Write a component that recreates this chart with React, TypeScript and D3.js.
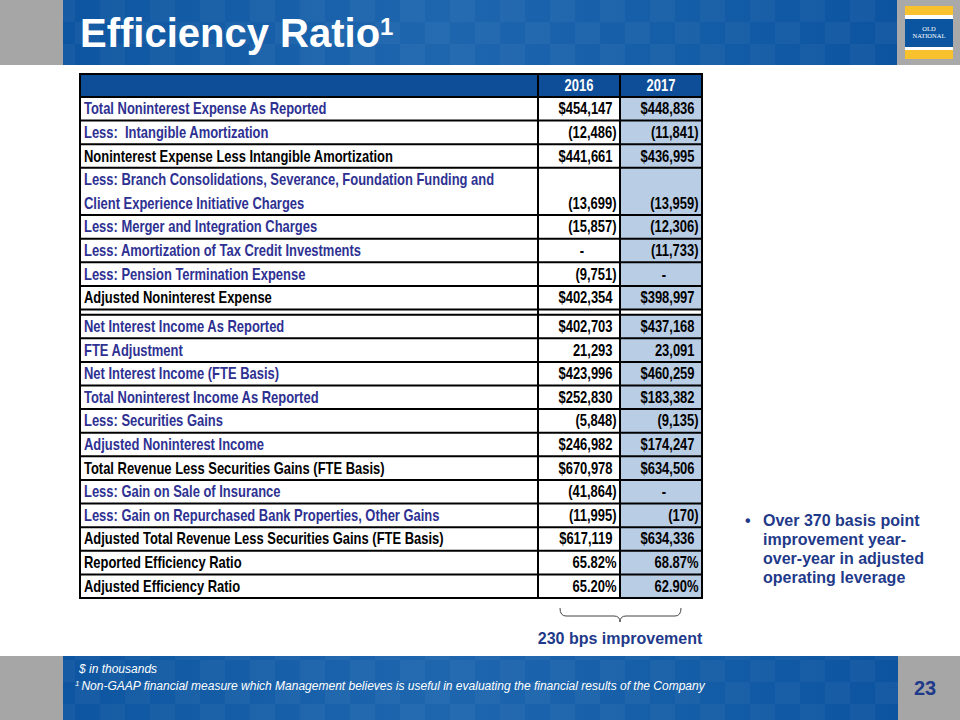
import React, { useEffect } from "react";
import * as d3 from "d3";

const years = ["2016", "2017"];

const rowLabels = [
  "Total Noninterest Expense As Reported",
  "Less:  Intangible Amortization",
  "Noninterest Expense Less Intangible Amortization",
  "Less: Branch Consolidations, Severance, Foundation Funding and\nClient Experience Initiative Charges",
  "Less: Merger and Integration Charges",
  "Less: Amortization of Tax Credit Investments",
  "Less: Pension Termination Expense",
  "Adjusted Noninterest Expense",
  "Net Interest Income As Reported",
  "FTE Adjustment",
  "Net Interest Income (FTE Basis)",
  "Total Noninterest Income As Reported",
  "Less: Securities Gains",
  "Adjusted Noninterest Income",
  "Total Revenue Less Securities Gains (FTE Basis)",
  "Less: Gain on Sale of Insurance",
  "Less: Gain on Repurchased Bank Properties, Other Gains",
  "Adjusted Total Revenue Less Securities Gains (FTE Basis)",
  "Reported Efficiency Ratio",
  "Adjusted Efficiency Ratio",
];

const values2016 = [
  454147, -12486, 441661, -13699, -15857, 0, -9751, 402354, 402703, 21293,
  423996, 252830, -5848, 246982, 670978, -41864, -11995, 617119, 65.82, 65.2,
];
const values2017 = [
  448836, -11841, 436995, -13959, -12306, -11733, 0, 398997, 437168, 23091,
  460259, 183382, -9135, 174247, 634506, 0, -170, 634336, 68.87, 62.9,
];

// "$" dollars, "n" plain number, "%" ratio
const rowFormats = [
  "$", "n", "$", "n", "n", "n", "n", "$", "$", "n",
  "$", "$", "n", "$", "$", "n", "n", "$", "%", "%",
];
// rows whose label is black instead of blue
const subtotalRows = [2, 7, 14, 17, 18, 19];
const sectionBreakAfter = 7;

const bulletLines = [
  "Over 370 basis point",
  "improvement year-",
  "over-year in adjusted",
  "operating leverage",
];

const W = 960;
const H = 720;
const NAVY = "#2E3192";
const DARK = "#1F3A8A";
const sans = "'Liberation Sans', Arial, sans-serif";
// no narrow face installed: squeeze Liberation Sans Bold horizontally
const SQUEEZE = 0.81;

function fmt(v: number, f: string) {
  if (f === "%") return v.toFixed(2) + "%";
  if (v === 0) return "-";
  const s = d3.format(",")(Math.abs(v));
  if (v < 0) return `(${s})`;
  return f === "$" ? "$" + s : s;
}

function NText({ x, y, anchor = "start", fill, children }: any) {
  return (
    <text transform={`translate(${x},${y}) scale(${SQUEEZE},1)`} textAnchor={anchor} fill={fill}
      fontFamily={sans} fontWeight="bold" fontSize={16} style={{ whiteSpace: "pre" }}>
      {children}
    </text>
  );
}

export default function App() {
  useEffect(() => {
    document.body.style.margin = "0";
  }, []);

  // table frame
  const tableLeft = 80;
  const tableRight = 702;
  const tableTop = 74;
  const headTop = 97;
  const tableBottom = 598;
  const gapUnits = 0.22;

  const colX = d3.scaleBand().domain(years).range([538, tableRight]).padding(0);

  // rows: each label line is one unit
  const rows: { top: number; units: number; lines: string[] }[] = [];
  let acc = 0;
  rowLabels.forEach((lab, i) => {
    const lines = lab.split("\n");
    rows.push({ top: acc, units: lines.length, lines });
    acc += lines.length;
    if (i === sectionBreakAfter) acc += gapUnits;
  });
  const y = d3.scaleLinear().domain([0, acc]).range([headTop, tableBottom]);

  const hLines: number[] = [];
  rows.forEach((r, i) => {
    hLines.push(y(r.top));
    if (i === sectionBreakAfter) hLines.push(y(r.top + r.units));
  });

  const valueX = (year: string, txt: string) => {
    const right = (colX(year) as number) + colX.bandwidth();
    if (txt === "-") return right - 36;
    if (txt.startsWith("(") || txt.endsWith("%")) return right - 3.5;
    return right - 7.5;
  };

  const bracket = d3.path();
  bracket.moveTo(560, 608);
  bracket.quadraticCurveTo(560, 616, 566, 616);
  bracket.lineTo(614, 616);
  bracket.quadraticCurveTo(620, 616, 620, 622);
  bracket.quadraticCurveTo(620, 616, 626, 616);
  bracket.lineTo(675, 616);
  bracket.quadraticCurveTo(681, 616, 681, 608);

  return (
    <svg width={W} height={H} style={{ display: "block", background: "#fff" }}>
      <defs>
        <linearGradient id="band" x1="0" x2="1" y1="0" y2="0">
          <stop offset="0" stopColor="#0D55A0" />
          <stop offset="0.45" stopColor="#1E67AF" />
          <stop offset="1" stopColor="#0C54A0" />
        </linearGradient>
        <pattern id="check" width="50" height="44" patternUnits="userSpaceOnUse">
          <rect x="0" y="0" width="25" height="22" fill="#fff" opacity="0.035" />
          <rect x="25" y="22" width="25" height="22" fill="#fff" opacity="0.035" />
        </pattern>
      </defs>

      {/* header band */}
      <rect x={0} y={0} width={63} height={65} fill="#A6A6A6" />
      <rect x={63} y={0} width={834} height={65} fill="url(#band)" />
      <rect x={63} y={0} width={834} height={65} fill="url(#check)" />
      <rect x={897} y={0} width={63} height={65} fill="#A9A9A9" />
      <text x={80} y={47} fill="#fff" fontFamily={sans} fontWeight="bold" fontSize={40}>
        Efficiency Ratio
        <tspan fontSize={24} dy={-12}>1</tspan>
      </text>

      {/* logo */}
      <rect x={905} y={6} width={48} height={9} fill="#F8C22E" />
      <rect x={905} y={15} width={48} height={4} fill="#fff" />
      <rect x={905} y={19} width={48} height={28} fill="#0B55A0" />
      <rect x={905} y={47} width={48} height={3} fill="#fff" />
      <rect x={905} y={50} width={48} height={9} fill="#F8C22E" />
      <text x={929} y={31} textAnchor="middle" fill="#fff" fontFamily="'Liberation Serif', serif" fontSize={6.5}>OLD</text>
      <text x={929} y={38} textAnchor="middle" fill="#fff" fontFamily="'Liberation Serif', serif" fontSize={6.5}>NATIONAL</text>

      {/* table header */}
      <rect x={tableLeft} y={tableTop} width={tableRight - tableLeft} height={headTop - tableTop} fill="#0E4E98" />
      {years.map((yr) => (
        <NText key={yr} x={(colX(yr) as number) + colX.bandwidth() / 2} y={headTop - 6.5} anchor="middle" fill="#fff">
          {yr}
        </NText>
      ))}

      {/* 2017 shading */}
      {rows.map((r, i) => (
        <rect key={"s" + i} x={colX("2017") as number} y={y(r.top)} width={colX.bandwidth()}
          height={y(r.top + r.units) - y(r.top)} fill="#B9CDE5" />
      ))}

      {/* rows */}
      {rows.map((r, i) => {
        const u = y(1) - y(0);
        const color = subtotalRows.includes(i) ? "#000" : NAVY;
        const lastBase = y(r.top) + u * (r.units - 0.5) + 5.5;
        return (
          <g key={"r" + i}>
            {r.lines.map((ln, j) => (
              <NText key={j} x={84} y={y(r.top) + u * (j + 0.5) + 5.5} fill={color}>
                {ln}
              </NText>
            ))}
            {years.map((yr, k) => {
              const v = (k === 0 ? values2016 : values2017)[i];
              const t = fmt(v, rowFormats[i]);
              return (
                <NText key={yr} x={valueX(yr, t)} y={lastBase} anchor="end" fill="#000">
                  {t}
                </NText>
              );
            })}
          </g>
        );
      })}

      {/* grid lines */}
      <g stroke="#000" strokeWidth={2}>
        {hLines.map((yy, i) => (
          <line key={"h" + i} x1={tableLeft} x2={tableRight} y1={yy} y2={yy} />
        ))}
        {years.map((yr) => (
          <line key={"v" + yr} x1={colX(yr) as number} x2={colX(yr) as number} y1={tableTop} y2={tableBottom} />
        ))}
        <rect x={tableLeft} y={tableTop} width={tableRight - tableLeft} height={tableBottom - tableTop} fill="none" />
      </g>

      {/* bracket */}
      <path d={bracket.toString()} fill="none" stroke="#444" strokeWidth={1} />
      <text x={620} y={644} textAnchor="middle" fill={DARK} fontFamily={sans} fontWeight="bold" fontSize={16}>
        230 bps improvement
      </text>

      {/* bullet */}
      <text x={745} y={526} fill={DARK} fontFamily={sans} fontWeight="bold" fontSize={16}>•</text>
      {bulletLines.map((ln, i) => (
        <text key={ln} x={763} y={526 + i * 19} fill={DARK} fontFamily={sans} fontWeight="bold" fontSize={16}>
          {ln}
        </text>
      ))}

      {/* footer */}
      <rect x={0} y={656} width={63} height={64} fill="#A6A6A6" />
      <rect x={63} y={656} width={835} height={64} fill="url(#band)" />
      <rect x={63} y={656} width={835} height={64} fill="url(#check)" />
      <rect x={898} y={656} width={62} height={64} fill="#A6A6A6" />
      <text x={79} y={673} fill="#fff" fontFamily={sans} fontStyle="italic" fontSize={12}>$ in thousands</text>
      <text x={75} y={690} fill="#fff" fontFamily={sans} fontStyle="italic" fontSize={12}>
        <tspan fontSize={8} dy={-4}>1</tspan>
        <tspan dx={2} dy={4}>Non-GAAP financial measure which Management believes is useful in evaluating the financial results of the Company</tspan>
      </text>
      <text x={925} y={695} textAnchor="middle" fill={DARK} fontFamily={sans} fontWeight="bold" fontSize={20}>23</text>
    </svg>
  );
}
